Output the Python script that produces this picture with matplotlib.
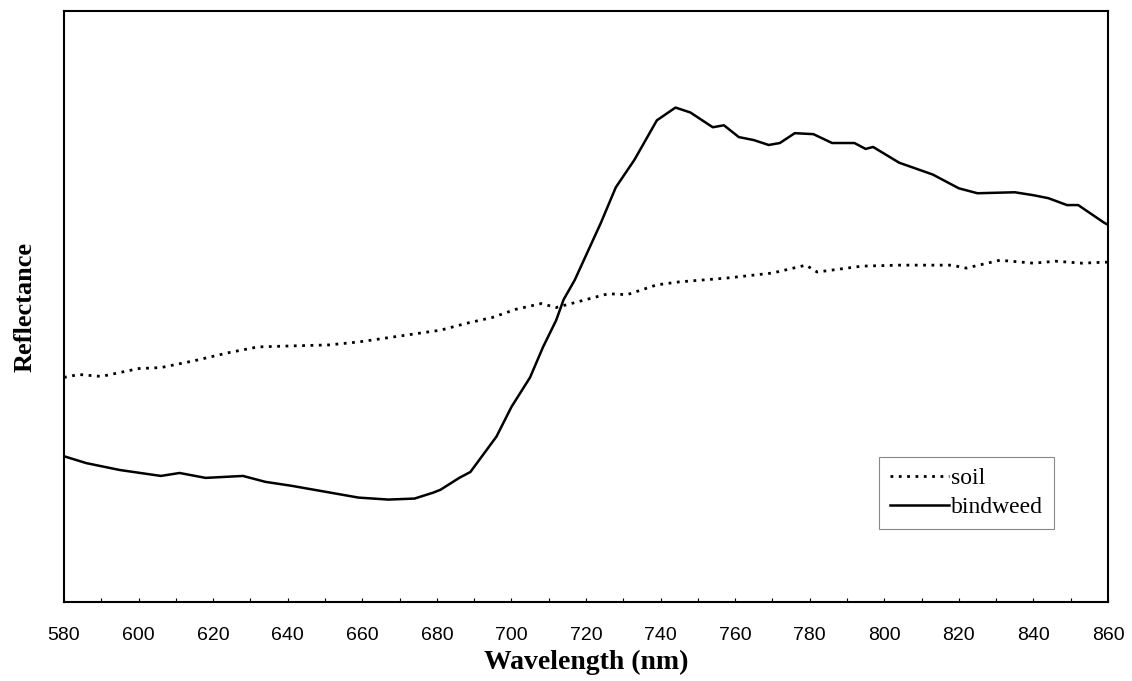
import matplotlib
matplotlib.use("Agg")
import matplotlib.pyplot as plt

# wavelength (nm) / reflectance (arbitrary units)
bindweed_nm = [580, 586, 595, 606, 611, 618, 628, 634, 641, 650, 659, 667, 674, 679,
               681, 686, 689, 696, 700, 705, 708.5, 712, 714, 717, 724, 728, 733, 739,
               744, 748, 754, 757, 761, 765, 769, 772, 776, 781, 786, 792, 795, 797,
               804, 813, 817, 820, 825, 835, 840, 844, 849, 852, 859, 860]
bindweed_r = [14.8, 14.1, 13.4, 12.8, 13.1, 12.6, 12.8, 12.2, 11.8, 11.2, 10.6, 10.4, 10.5, 11.1,
              11.4, 12.6, 13.2, 16.8, 19.8, 22.8, 25.9, 28.6, 30.7, 32.7, 38.5, 42.1, 44.9, 48.9,
              50.2, 49.7, 48.2, 48.4, 47.2, 46.9, 46.4, 46.6, 47.6, 47.5, 46.6, 46.6, 46.0, 46.2,
              44.6, 43.4, 42.6, 42.0, 41.5, 41.6, 41.3, 41.0, 40.3, 40.3, 38.5, 38.3]

soil_nm = [580, 584, 590, 600, 606, 615, 624, 632, 641, 651, 659, 670, 681, 688, 695,
           701, 708, 712, 717, 726, 731, 739, 745, 758, 770, 779, 782, 794, 804, 818,
           822, 831, 840, 846, 853, 859, 860]
soil_r = [22.8, 23.1, 22.9, 23.7, 23.8, 24.5, 25.3, 25.9, 26.0, 26.1, 26.4, 27.0, 27.6, 28.3, 28.9,
          29.7, 30.3, 29.9, 30.4, 31.3, 31.2, 32.2, 32.5, 32.9, 33.4, 34.2, 33.5, 34.1, 34.2, 34.2,
          33.9, 34.7, 34.4, 34.6, 34.4, 34.5, 34.5]

xticks = list(range(580, 861, 20))

fig = plt.figure(figsize=(11.32, 6.81), dpi=100)
ax = fig.add_axes([0.0565, 0.116, 0.9223, 0.8678])

ax.plot(soil_nm, soil_r, color="black", linewidth=2, linestyle=(0, (1, 2)), label="soil")
ax.plot(bindweed_nm, bindweed_r, color="black", linewidth=1.8, label="bindweed")

ax.set_xlim(580, 860)
ax.set_ylim(0, 60)
ax.set_xticks(xticks)
ax.set_xticks(range(590, 860, 20), minor=True)
ax.set_yticks([])
ax.tick_params(axis="x", which="both", direction="in", length=3, width=0.8,
               labelsize=14, pad=18)
for lbl in ax.get_xticklabels():
    lbl.set_family("Liberation Sans")

for s in ax.spines.values():
    s.set_linewidth(1.5)
    s.set_color("black")

ax.set_xlabel("Wavelength (nm)", family="Liberation Serif", fontweight="bold",
              fontsize=20, labelpad=4)
ax.set_ylabel("Reflectance", family="Liberation Serif", fontweight="bold",
              fontsize=19, labelpad=20)

leg = ax.legend(loc="upper left", bbox_to_anchor=(0.781, 0.245), borderaxespad=0,
                prop={"family": "Liberation Serif", "size": 17}, handlelength=2.5,
                handletextpad=0.1, labelspacing=0.3, fancybox=False, framealpha=1,
                borderpad=0.45)
leg.get_frame().set_edgecolor("#888888")
leg.get_frame().set_linewidth(0.8)

fig.savefig("out.png", dpi=100)
